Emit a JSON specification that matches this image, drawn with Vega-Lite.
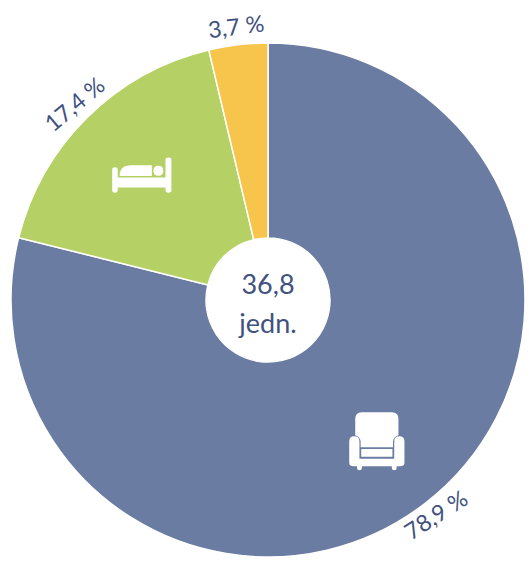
{
"$schema":"https://vega.github.io/schema/vega-lite/v6.json",
"width":522,"height":526,
"padding":{"left":7,"top":37,"right":0,"bottom":0},
"autosize":{"type":"none"},
"background":"white",
"view":{"stroke":null},
"config":{"font":"Lato"},
"datasets":{
"shares":[
{"category":"Fotel","rank":1,"share":78.9,"label":"78,9 %"},
{"category":"Łóżko","rank":2,"share":17.4,"label":"17,4 %"},
{"category":"Inne","rank":3,"share":3.7,"label":"3,7 %"}
],
"icons":[
{"icon":"sofa","px":0.417,"py":0.537},
{"icon":"bed","px":-0.483,"py":-0.475}
]
},
"layer":[
{
"data":{"name":"shares"},
"mark":{"type":"arc","innerRadius":62,"outerRadius":257,"stroke":"white","strokeWidth":1.5},
"encoding":{
"theta":{"field":"share","type":"quantitative","stack":true},
"order":{"field":"rank","type":"ordinal"},
"color":{"field":"category","type":"nominal","legend":null,"scale":{"domain":["Fotel","Łóżko","Inne"],"range":["#6b7ca3","#b5d165","#f7c44c"]}}
}
},
{
"data":{"name":"shares"},
"mark":{"type":"text","radius":274,"fontSize":23,"color":"#41527f","align":"center","baseline":"middle"},
"encoding":{
"theta":{"field":"share","type":"quantitative","stack":true},
"order":{"field":"rank","type":"ordinal"},
"text":{"field":"label","type":"nominal"},
"angle":{"field":"category","type":"nominal","legend":null,"scale":{"type":"ordinal","domain":["Fotel","Łóżko","Inne"],"range":[327,320,353]}}
}
},
{
"data":{"values":[{"t":"36,8\njedn."}]},
"mark":{"type":"text","lineBreak":"\n","lineHeight":39,"fontSize":27,"dy":-14,"color":"#41527f","align":"center","baseline":"middle"},
"encoding":{"text":{"field":"t","type":"nominal"}}
},
{
"data":{"name":"icons"},
"mark":{"type":"point","filled":true,"color":"white","opacity":1,"strokeWidth":0},
"encoding":{
"x":{"field":"px","type":"quantitative","axis":null,"scale":{"domain":[-1,1],"zero":false,"nice":false}},
"y":{"field":"py","type":"quantitative","axis":null,"scale":{"domain":[1,-1],"zero":false,"nice":false}},
"shape":{"field":"icon","type":"nominal","legend":null,"scale":{"domain":["sofa","bed"],"range":[
"M-.72 -.75Q-.72 -.97 -.5 -.97H.5Q.72 -.97 .72 -.75V-.2Q.56 -.15 .54 0V.2H-.54V0Q-.56 -.15 -.72 -.2ZM-.52 .26H.52V.52H-.52ZM-.92 0Q-.92 -.17 -.75 -.17Q-.58 -.17 -.58 0V.58H.58V0Q.58 -.17 .75 -.17Q.92 -.17 .92 0V.72Q.92 .83 .8 .83H.66V.9Q.66 .97 .58 .97Q.5 .97 .5 .9V.83H-.5V.9Q-.5 .97 -.58 .97Q-.66 .97 -.66 .9V.83H-.8Q-.92 .83 -.92 .72Z",
"M-.96 -.17Q-.96 -.25 -.87 -.25Q-.78 -.25 -.78 -.17V.08H.76V-.49Q.76 -.57 .85 -.57Q.95 -.57 .95 -.49V.49Q.95 .57 .85 .57Q.76 .57 .76 .49V.4H-.78V.49Q-.78 .57 -.87 .57Q-.96 .57 -.96 .49ZM-.72 .03Q-.72 -.32 -.35 -.32H.32V.03ZM.37 -.14Q.37 -.3 .53 -.3Q.69 -.3 .69 -.14Q.69 .02 .53 .02Q.37 .02 .37 -.14Z"
]}},
"size":{"field":"icon","type":"nominal","legend":null,"scale":{"domain":["sofa","bed"],"range":[3600,3844]}}
}
}
],
"resolve":{"scale":{"theta":"independent"}}
}
